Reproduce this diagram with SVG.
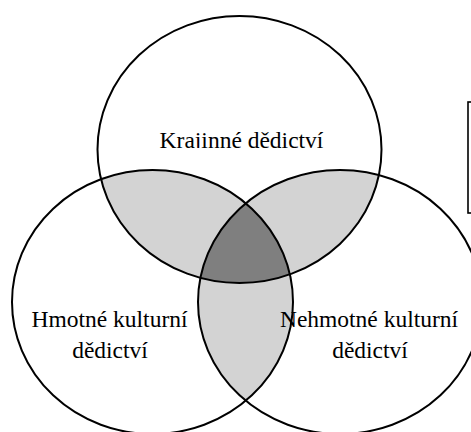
<svg xmlns="http://www.w3.org/2000/svg" width="471" height="432" viewBox="0 0 471 432">
  <style>
    .ring { fill: none; stroke: #000; stroke-width: 2; }
    .light { fill: #d3d3d3; stroke: none; }
    .dark { fill: #7f7f7f; stroke: none; }
    .lbl { font-size: 23.5px; fill: #000; text-anchor: middle; }
    .box { fill: #fff; stroke: #000; stroke-width: 1.6; }
  </style>
  <defs>
    <clipPath id="cT"><ellipse cx="239.5" cy="149.5" rx="142" ry="133.5"/></clipPath>
    <clipPath id="cL"><ellipse cx="152.5" cy="302" rx="140.5" ry="132"/></clipPath>
    <clipPath id="cR"><ellipse cx="340" cy="302" rx="142" ry="132"/></clipPath>
    <clipPath id="cText"><rect x="0" y="0" width="471" height="148"/></clipPath>
  </defs>
  <rect x="0" y="0" width="471" height="432" fill="#fff"/>

  <g id="overlaps">
    <g clip-path="url(#cT)"><ellipse class="light" cx="152.5" cy="302" rx="140.5" ry="132"/></g>
    <g clip-path="url(#cT)"><ellipse class="light" cx="340" cy="302" rx="142" ry="132"/></g>
    <g clip-path="url(#cL)"><ellipse class="light" cx="340" cy="302" rx="142" ry="132"/></g>
    <g clip-path="url(#cT)"><g clip-path="url(#cL)"><ellipse class="dark" cx="340" cy="302" rx="142" ry="132"/></g></g>
  </g>

  <g id="box">
    <rect class="box" x="468" y="102" width="20" height="111"/>
  </g>

  <g font-family="'Liberation Serif', 'DejaVu Serif', serif">
    <g id="krajinne">
      <ellipse class="ring" cx="239.5" cy="149.5" rx="142" ry="133.5"/>
      <text class="lbl" x="241.5" y="147.5" clip-path="url(#cText)">Krajinné dědictví</text>
    </g>

    <g id="hmotne">
      <ellipse class="ring" cx="152.5" cy="302" rx="140.5" ry="132"/>
      <text class="lbl" x="109.5" y="327">Hmotné kulturní</text>
      <text class="lbl" x="110" y="358">dědictví</text>
    </g>

    <g id="nehmotne">
      <ellipse class="ring" cx="340" cy="302" rx="142" ry="132"/>
      <text class="lbl" x="369" y="327">Nehmotné kulturní</text>
      <text class="lbl" x="370" y="358">dědictví</text>
    </g>
  </g>

  <g id="connectors"/>
</svg>
